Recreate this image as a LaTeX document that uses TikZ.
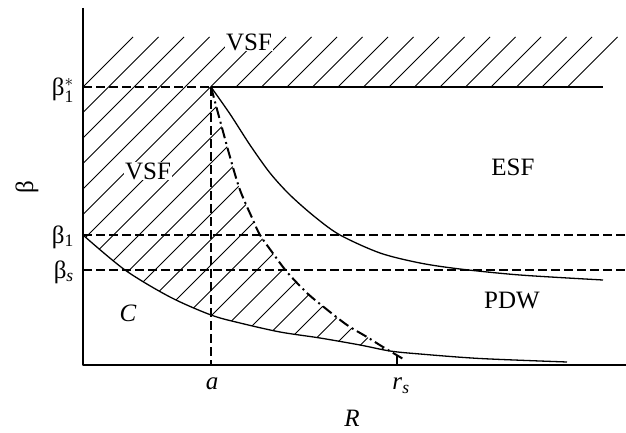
\documentclass[tikz,border=0pt]{standalone}
\usepackage{amsmath}
\usepackage{fontspec}
\setmainfont{Liberation Serif}

\begin{document}
\begin{tikzpicture}[x=1pt,y=-1pt,line join=round]
  % ----- styles -----
  \tikzset{
    axis/.style={draw=black,line width=2pt},
    bound/.style={draw=black,line width=1.3pt},
    dashline/.style={draw=black,line width=1.6pt,dash pattern=on 9pt off 4pt},
    dashdotline/.style={draw=black,line width=2pt,dash pattern=on 11pt off 4pt on 2pt off 4pt},
    hatch/.style={draw=black,line width=0.9pt},
    lbl/.style={font=\fontsize{25}{30}\selectfont,inner sep=1pt},
    region/.style={lbl,fill=white}
  }
  \useasboundingbox (0,0) rectangle (626,433);

  % ----- geometry -----
  \def\hs{25.5}          % hatch spacing
  \coordinate (O) at (83,365);
  \coordinate (Ytop) at (83,8);
  \coordinate (Xend) at (626,365);
  \coordinate (B1s) at (83,87);
  \coordinate (B1) at (83,235);
  \coordinate (Bs) at (83,270);
  \coordinate (A) at (211,87);
  \coordinate (Abot) at (211,365);
  \coordinate (Rs) at (397,365);

  % ----- hatching -----
  \foreach \k in {0,...,19}{
    \draw[hatch] ({83+\hs*\k},87) -- ({133+\hs*\k},37);
  }
  \begin{scope}
    \clip (83,87) -- (211,87)
      -- plot[smooth] coordinates {(211,87) (218,113) (230,157) (240,190) (253,220) (260,235) (272,252) (287,272) (307,293) (325,308) (347,325) (367,337) (383,347) (390,351)}
      -- plot[smooth] coordinates {(390,351) (360,345) (320,338) (280,332) (240,323) (211,315) (170,297) (125,270) (83,235)}
      -- cycle;
    \foreach \k in {0,...,23}{
      \draw[hatch] ({170+\hs*\k},0) -- (0,{170+\hs*\k});
    }
  \end{scope}

  % ----- dashed guides -----
  \draw[dashline] (B1s) -- (A);
  \draw[dashline] (A) -- (Abot);
  \draw[dashline] (B1) -- (B1 -| Xend);
  \draw[dashline] (Bs) -- (Bs -| Xend);

  % ----- boundaries -----
  \draw[axis] (A) -- (603,87);
  \draw[bound] plot[smooth] coordinates {(211,87) (230,114) (250,145) (270,173) (290,195) (315,217) (340,235) (380,253) (420,263) (460,269) (520,275) (603,280)};
  \draw[bound] plot[smooth] coordinates {(83,235) (125,270) (170,297) (211,315) (240,323) (280,332) (320,338) (360,345) (390,351) (420,354) (480,358.5) (567,362)};
  \draw[dashdotline] plot[smooth] coordinates {(211,87) (218,113) (230,157) (240,190) (253,220) (260,235) (272,252) (287,272) (307,293) (325,308) (347,325) (367,337) (383,347) (405,360)};
  \draw[bound] (Rs) -- ++(0,-9);

  % ----- axes -----
  \draw[axis] (Ytop) -- (O) -- (Xend);

  % ----- labels -----
  \node[region] (vsftop) at (249,42) {VSF};
  \node[region] (vsfleft) at (148,171) {VSF};
  \node[lbl] (esf) at (513,167) {ESF};
  \node[lbl] (pdw) at (512,301) {PDW};
  \node[lbl] (c) at (128,313) {\textit{C}};
  \node[lbl,anchor=east] (lb1s) at (75,90) {β$_{\text{1}}^{*}$};
  \node[lbl,anchor=east] (lb1) at (75,237) {β$_{\text{1}}$};
  \node[lbl,anchor=east] (lbs) at (75,272) {β$_{\textit{s}}$};
  \node[lbl,rotate=90] (ylab) at (27,187) {β};
  \node[lbl] (la) at (212,384) {\textit{a}};
  \node[lbl] (lrs) at (401,386) {\textit{r}$_{\textit{s}}$};
  \node[lbl] (xlab) at (352,418) {\textit{R}};
\end{tikzpicture}
\end{document}
